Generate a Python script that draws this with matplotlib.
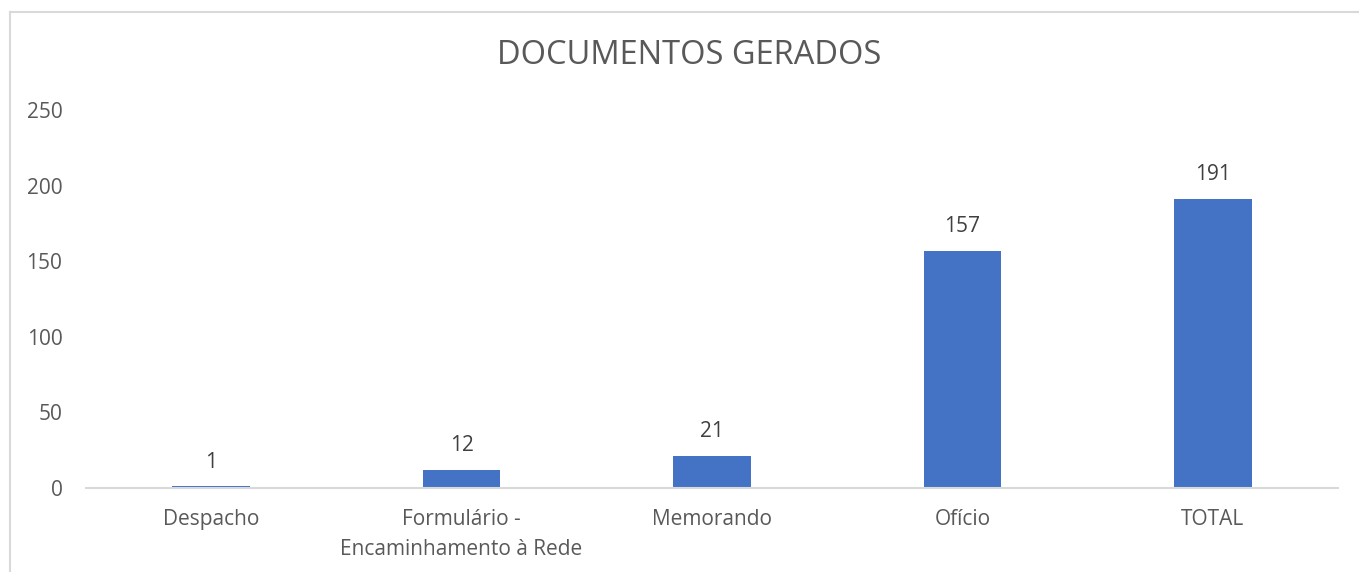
import matplotlib.pyplot as plt
from matplotlib.lines import Line2D

categories = ["Despacho", "Formulário -\nEncaminhamento à Rede", "Memorando", "Ofício", "TOTAL"]
values = [1, 12, 21, 157, 191]
yticks = [0, 50, 100, 150, 200, 250]

plt.rcParams["font.family"] = ["Open Sans", "DejaVu Sans"]

fig = plt.figure(figsize=(13.59, 5.72), dpi=100)
ax = fig.add_axes([86 / 1359, 84 / 572, 1252 / 1359, 378 / 572])

x = range(len(categories))
bars = ax.bar(x, values, width=0.31, color="#4472C4")
for b, v in zip(bars, values):
    ax.annotate(str(v), (b.get_x() + b.get_width() / 2, v), xytext=(0, 10),
                textcoords="offset points", ha="center", va="bottom",
                fontsize=15, color="#404040")

ax.set_xlim(-0.5, len(categories) - 0.5)
ax.set_ylim(0, 250)
ax.set_yticks(yticks)
ax.set_xticks(list(x))
ax.set_xticklabels(categories, linespacing=1.55)
ax.tick_params(axis="both", length=0, labelsize=15, labelcolor="#595959")
ax.tick_params(axis="y", pad=17)
ax.tick_params(axis="x", pad=15)
for s in ["top", "right", "left"]:
    ax.spines[s].set_visible(False)
ax.spines["bottom"].set_color("#d9d9d9")
ax.spines["bottom"].set_linewidth(1.5)

fig.text(0.5 + 10 / 1359, 1 - 56 / 572, "DOCUMENTOS GERADOS", ha="center", va="center",
         fontsize=23.5, color="#595959")

# chart border (only left and top edges are in the crop)
bx, by = 9.5 / 1359, 1 - 11.5 / 572
fig.add_artist(Line2D([bx, bx], [0, by], color="#d9d9d9", lw=1.5))
fig.add_artist(Line2D([bx, 1], [by, by], color="#d9d9d9", lw=1.5))

fig.savefig("out.png", dpi=100)
